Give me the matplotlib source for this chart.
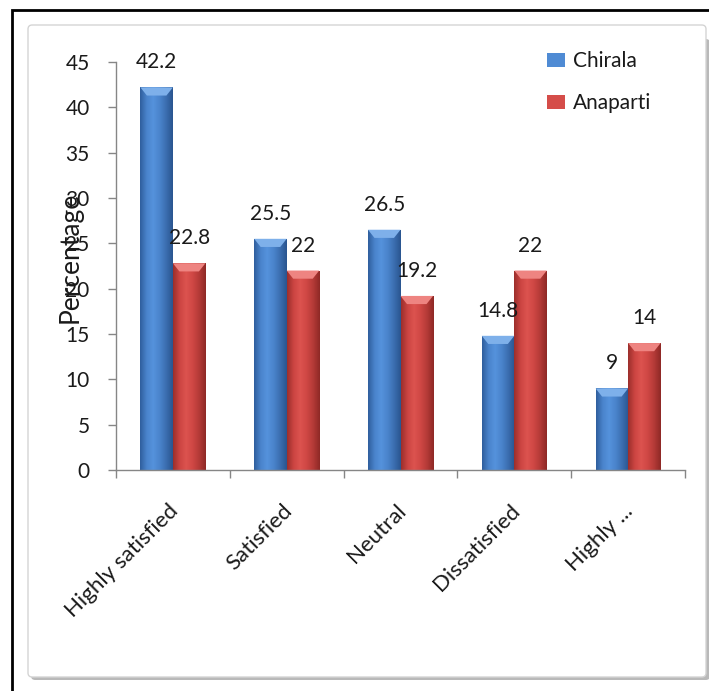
import numpy as np
import matplotlib
matplotlib.use("Agg")
import matplotlib.pyplot as plt
from matplotlib.colors import LinearSegmentedColormap
from matplotlib.patches import FancyBboxPatch, Rectangle
from matplotlib.transforms import ScaledTranslation

# data
categories = ["Highly satisfied", "Satisfied", "Neutral", "Dissatisfied", "Highly ..."]
chirala = [42.2, 25.5, 26.5, 14.8, 9]
anaparti = [22.8, 22, 19.2, 22, 14]
series_names = ["Chirala", "Anaparti"]
yticks = [0, 5, 10, 15, 20, 25, 30, 35, 40, 45]

plt.rcParams['font.family'] = ['Lato', 'DejaVu Sans']
txt_color = '#1a1a1a'

W, H = 709, 691
fig = plt.figure(figsize=(W / 100, H / 100), dpi=100)

# outer black frame
fig.patches.append(Rectangle((12 / W, -0.05), 1.2, 1 - 10 / H + 0.05, transform=fig.transFigure,
                             fill=False, edgecolor='black', linewidth=2, zorder=-3))
# inner rounded chart area with soft shadow
fig.patches.append(FancyBboxPatch((31 / W, 11 / H), 679 / W, 641 / H, transform=fig.transFigure,
                                  boxstyle="round,pad=0,rounding_size=0.006",
                                  facecolor='#b9b9b9', edgecolor='none', zorder=-2))
fig.patches.append(FancyBboxPatch((28 / W, 14 / H), 678 / W, 652 / H, transform=fig.transFigure,
                                  boxstyle="round,pad=0,rounding_size=0.006",
                                  facecolor='white', edgecolor='#d4d4d4', linewidth=1, zorder=-1))

ax = fig.add_axes([116 / W, 221 / H, 569 / W, 408 / H])
ax.set_facecolor('none')

blue_cmap = LinearSegmentedColormap.from_list(
    'b', ['#2f5f9e', '#4a84cc', '#5592dc', '#4a84cc', '#3b6eb0', '#2a5590'])
red_cmap = LinearSegmentedColormap.from_list(
    'r', ['#9c2f2c', '#cc4542', '#dc534f', '#cf4744', '#b43a37', '#8f2926'])
blue_top = '#7eb0ea'
red_top = '#ee8481'

width = 1 / 3.5
x = np.arange(len(categories))
grad = np.linspace(0, 1, 64).reshape(1, -1)


def shaded_bars(xpos, values, cmap, top_color, label):
    bars = ax.bar(xpos, values, width, color=cmap(0.5), label=label, zorder=2, linewidth=0)
    for b in bars:
        x0, w, h = b.get_x(), b.get_width(), b.get_height()
        im = ax.imshow(grad, cmap=cmap, extent=(x0, x0 + w, 0, h), aspect='auto', zorder=2.1)
        im.set_clip_path(b)
        # bevel at the top of each bar
        bev = 0.9
        ax.fill([x0, x0 + w, x0 + w * 0.8, x0 + w * 0.2], [h, h, h - bev, h - bev],
                color=top_color, linewidth=0, zorder=2.2)
        ax.annotate(f"{h:g}", (x0 + w / 2, h), xytext=(0, 18), textcoords='offset points',
                    ha='center', va='center', fontsize=15, color=txt_color, zorder=3)
    return bars


b1 = shaded_bars(x - width / 2, chirala, blue_cmap, blue_top, series_names[0])
b2 = shaded_bars(x + width / 2, anaparti, red_cmap, red_top, series_names[1])

ax.set_xlim(-0.5, len(categories) - 0.5)
ax.set_ylim(0, 45)
ax.set_yticks(yticks)
ax.tick_params(axis='y', length=6, width=1, color='#868686', pad=13, labelsize=15, labelcolor=txt_color)

ax.set_xticks(x)
ax.set_xticklabels(categories, rotation=45, ha='right', rotation_mode='anchor')
ax.tick_params(axis='x', which='major', length=0, pad=22, labelsize=16, labelcolor=txt_color)
shift = ScaledTranslation(-5 / 100, 0, fig.dpi_scale_trans)
for lab in ax.get_xticklabels():
    lab.set_transform(lab.get_transform() + shift)
ax.set_xticks(np.arange(len(categories) + 1) - 0.5, minor=True)
ax.tick_params(axis='x', which='minor', length=6, width=1, color='#868686', direction='out')

for s in ['top', 'right']:
    ax.spines[s].set_visible(False)
for s in ['left', 'bottom']:
    ax.spines[s].set_color('#868686')
    ax.spines[s].set_linewidth(1)

fig.text(70 / W, 1 - 257 / H, "Percentage", rotation=90, ha='center', va='center',
         fontsize=19, color=txt_color)

leg = ax.legend(handles=[b1, b2], loc='upper left', bbox_to_anchor=(547 / W, 1 - 51 / H),
                bbox_transform=fig.transFigure, frameon=False, fontsize=15, borderpad=0,
                borderaxespad=0, handlelength=0.85, handleheight=0.65, handletextpad=0.4,
                labelspacing=1.05)
for t in leg.get_texts():
    t.set_color(txt_color)

fig.savefig("out.png", dpi=100)
